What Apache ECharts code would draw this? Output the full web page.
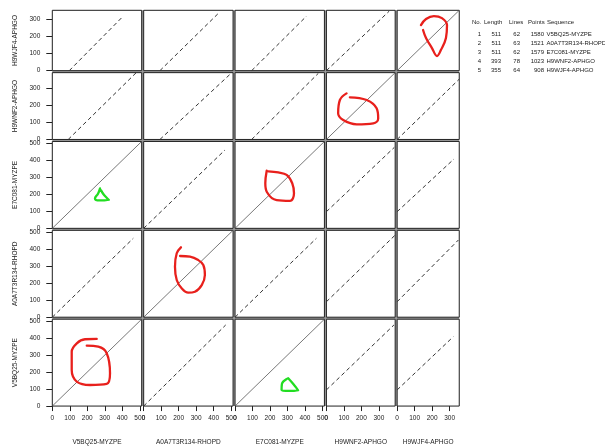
<!DOCTYPE html>
<html><head><meta charset="utf-8">
<script src="https://cdn.jsdelivr.net/npm/echarts@6/dist/echarts.min.js"></script>
<style>html,body{margin:0;padding:0;background:#fff}#c{width:605px;height:448px}</style>
</head><body><div id="c"></div>
<script>
// ---- data ----
const seqNames   = ['V5BQ25-MYZPE','A0A7T3R134-RHOPD','E7C081-MYZPE','H9WNF2-APHGO','H9WJF4-APHGO'];
const seqLengths = [511, 511, 511, 393, 355];
const seqLines   = [62, 63, 62, 78, 64];
const seqPoints  = [1580, 1521, 1579, 1023, 908];
const ticks511 = [0,100,200,300,400,500];
const ticks393 = [0,100,200,300];
const ticks355 = [0,100,200,300];
const seqTicks = [ticks511, ticks511, ticks511, ticks393, ticks355];

// alignment traces per row (y sequence), one [x1,y1,x2,y2] per column (x sequence)
const tracesV5BQ25 = [[0,0,511,511],[0,0,469,477],[0,0,511,511],[0,95,386,477],[0,95,321,408]];
const tracesA0A7   = [[0,0,463,464],[0,0,511,511],[0,0,465,464],[0,91,393,483],[0,91,350,454]];
const tracesE7C081 = [[0,0,511,511],[0,0,465,461],[0,0,511,511],[0,98,388,476],[0,98,325,408]];
const tracesH9WNF2 = [[91,0,479,392],[93,0,503,392],[95,0,476,389],[0,0,393,393],[0,0,355,355]];
const tracesH9WJF4 = [[97,0,406,321],[93,0,436,346],[95,0,409,321],[0,0,359,350],[0,0,355,355]];
const traces = [tracesV5BQ25, tracesA0A7, tracesE7C081, tracesH9WNF2, tracesH9WJF4];
const solidPairs = [[0,2],[2,0]]; // [xSeq, ySeq] besides the main diagonal

// hand-drawn annotations (data units of their panel)
const redLoopH9WJF4 = [[136,268],[165,304],[210,321],[256,309],[285,268],[279,192],[250,121],[228,86],[199,133],[165,192],[148,239]];
const redLoopH9WNF2 = [[134,248],[230,232],[287,183],[296,124],[268,95],[173,89],[96,114],[67,154],[77,232],[115,271]];
const redLoopE7C081 = [[181,339],[173,265],[182,214],[238,166],[314,162],[337,206],[327,265],[295,314],[247,329],[190,335]];
const redLoopA0A7   = [[213,411],[189,376],[179,297],[189,219],[217,170],[255,144],[293,150],[332,189],[350,248],[341,307],[312,336],[265,356],[208,360]];
const redLoopV5BQ25 = [[254,395],[187,393],[140,369],[111,320],[111,212],[140,144],[216,124],[311,130],[330,193],[311,311],[263,349],[197,355]];
const greenMarkE7vsV5 = [[273,235],[262,205],[244,176],[273,164],[324,166],[296,196],[278,225]];
const greenMarkV5vsE7 = [[295,159],[268,130],[266,95],[314,89],[361,91],[333,130],[304,164]];
const annotations = [
  {x:4, y:4, pts:redLoopH9WJF4, color:'#e8201c'},
  {x:3, y:3, pts:redLoopH9WNF2, color:'#e8201c'},
  {x:2, y:2, pts:redLoopE7C081, color:'#e8201c'},
  {x:1, y:1, pts:redLoopA0A7,   color:'#e8201c'},
  {x:0, y:0, pts:redLoopV5BQ25, color:'#e8201c'},
  {x:0, y:2, pts:greenMarkE7vsV5, color:'#22dd22'},
  {x:2, y:0, pts:greenMarkV5vsE7, color:'#22dd22'}
];

// ---- layout ----
const FONT = 'Liberation Sans, Arial, sans-serif';
const L0 = 52.3, T0 = 10.3, GAP = 2, SX = 0.1749, SY = 0.170;
const colLeft = [], colW = [];
let cx = L0;
for (let i = 0; i < 5; i++) { colLeft[i] = cx; colW[i] = seqLengths[i]*SX; cx += colW[i] + GAP; }
const rowTop = [], rowH = [];
let cy = T0;
for (let j = 4; j >= 0; j--) { rowTop[j] = cy; rowH[j] = seqLengths[j]*SY; cy += rowH[j] + GAP; }
const plotRight = colLeft[4] + colW[4], plotBottom = rowTop[0] + rowH[0];

const grid = [], xAxis = [], yAxis = [], series = [];
for (let yi = 0; yi < 5; yi++) {
  for (let xi = 0; xi < 5; xi++) {
    const g = yi*5 + xi;
    grid.push({left: colLeft[xi], top: rowTop[yi], width: colW[xi], height: rowH[yi],
      show: true, backgroundColor: '#fff', borderColor: '#222', borderWidth: 1, z: 1});
    xAxis.push({gridIndex: g, type: 'value', min: 0, max: seqLengths[xi], offset: 1,
      axisLine: {show: false}, splitLine: {show: false},
      axisTick: {show: yi === 0, length: 5, customValues: seqTicks[xi], lineStyle: {color: '#222', width: 1}},
      axisLabel: {show: yi === 0, customValues: seqTicks[xi], fontSize: 6.5, margin: 8, color: '#222', fontFamily: FONT},
      name: yi === 0 ? seqNames[xi] : '', nameLocation: 'middle', nameGap: 32,
      nameTextStyle: {fontSize: 6.5, color: '#222', fontFamily: FONT}});
    yAxis.push({gridIndex: g, type: 'value', min: 0, max: seqLengths[yi], offset: 1,
      axisLine: {show: false}, splitLine: {show: false},
      axisTick: {show: xi === 0, length: 6, customValues: seqTicks[yi], lineStyle: {color: '#222', width: 1}},
      axisLabel: {show: xi === 0, customValues: seqTicks[yi], fontSize: 6.5, margin: 11, color: '#222', fontFamily: FONT},
      name: xi === 0 ? seqNames[yi] : '', nameLocation: 'middle', nameGap: 33,
      nameTextStyle: {fontSize: 6.5, color: '#222', fontFamily: FONT}});
    const t = traces[yi][xi];
    const solid = xi === yi || solidPairs.some(p => p[0] === xi && p[1] === yi);
    series.push({type: 'line', xAxisIndex: g, yAxisIndex: g, data: [[t[0], t[1]], [t[2], t[3]]],
      showSymbol: false, silent: true, z: 3,
      lineStyle: {color: solid ? '#555' : '#333', width: solid ? 0.8 : 1, type: solid ? 'solid' : [4, 3]}});
  }
}
annotations.forEach(a => {
  const g = a.y*5 + a.x;
  series.push({type: 'line', xAxisIndex: g, yAxisIndex: g, data: a.pts, smooth: 0.4,
    showSymbol: false, silent: true, z: 5,
    lineStyle: {color: a.color, width: 2.3, cap: 'round', join: 'round'}});
});

// legend table
const tableCols = [ {label:'No.', x:472}, {label:'Length', x:484}, {label:'Lines', x:509}, {label:'Points', x:528}, {label:'Sequence', x:547} ];
const graphic = [{type: 'rect', z: 0, silent: true,
  shape: {x: L0, y: T0, width: plotRight - L0, height: plotBottom - T0},
  style: {fill: '#9a9a9a'}}];
tableCols.forEach(c => graphic.push({type: 'text', x: c.x, y: 22.5, silent: true,
  style: {text: c.label, fontSize: 6, fontFamily: FONT, fill: '#222', verticalAlign: 'middle'}}));
for (let i = 0; i < 5; i++) {
  const y = 34.3 + i*9.1;
  const cells = [
    {t: String(i+1), x: 481, a: 'right'},
    {t: String(seqLengths[i]), x: 501, a: 'right'},
    {t: String(seqLines[i]), x: 520, a: 'right'},
    {t: String(seqPoints[i]), x: 544, a: 'right'},
    {t: seqNames[i], x: 546.5, a: 'left'}
  ];
  cells.forEach(c => graphic.push({type: 'text', x: c.x, y: y, silent: true,
    style: {text: c.t, fontSize: 6, fontFamily: FONT, fill: '#222', align: c.a, verticalAlign: 'middle'}}));
}

const chart = echarts.init(document.getElementById('c'), null, {renderer: 'canvas'});
chart.setOption({animation: false, backgroundColor: '#fff', grid, xAxis, yAxis, series, graphic});
</script>
</body></html>
